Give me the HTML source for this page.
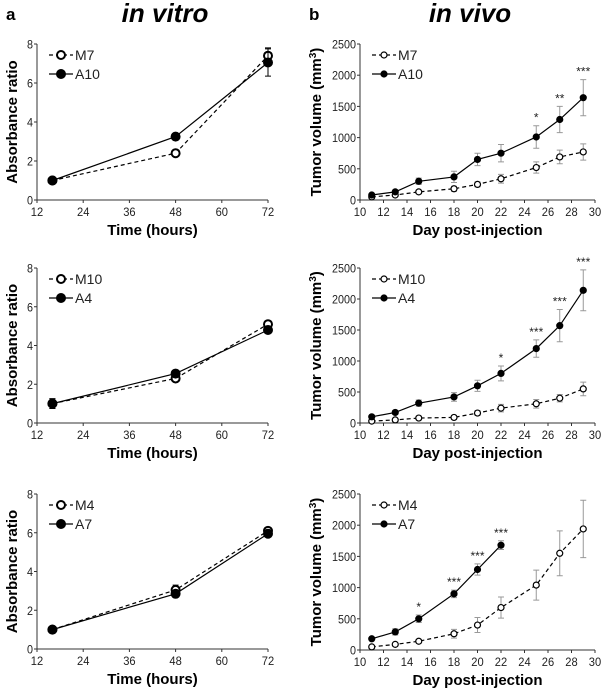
<!DOCTYPE html>
<html><head><meta charset="utf-8"><style>
body{margin:0;background:#fff;}
svg{display:block;font-family:"Liberation Sans",Arial,sans-serif;}
</style></head><body>
<svg id="fig" width="601" height="693" viewBox="0 0 601 693">
<text x="6" y="20" font-size="17" font-weight="bold">a</text>
<text x="165" y="22" font-size="26" font-weight="bold" font-style="italic" text-anchor="middle">in vitro</text>
<text x="309" y="20" font-size="17" font-weight="bold">b</text>
<text x="470" y="22" font-size="26" font-weight="bold" font-style="italic" text-anchor="middle">in vivo</text>
</svg>
<script>
// In vitro data
const vitroHours = [16, 48, 72];
const vitroTicks = [12, 24, 36, 48, 60, 72];
const vitroYTicks = [0, 2, 4, 6, 8];
const v1Names = ["M7", "A10"];
const v1M = [1.0, 2.4, 7.4];
const v1A = [1.0, 3.25, 7.05];
const v1Merr = [0.1, 0.1, 0.4];
const v1Aerr = [0.1, 0.1, 0.7];
const v2Names = ["M10", "A4"];
const v2M = [1.0, 2.3, 5.1];
const v2A = [1.0, 2.55, 4.8];
const v2Merr = [0.25, 0.15, 0.1];
const v2Aerr = [0.25, 0.15, 0.1];
const v3Names = ["M4", "A7"];
const v3M = [1.0, 3.05, 6.1];
const v3A = [1.0, 2.85, 5.95];
const v3Merr = [0.1, 0.25, 0.1];
const v3Aerr = [0.1, 0.15, 0.1];
// In vivo data
const vivoDays = [11, 13, 15, 18, 20, 22, 25, 27, 29];
const vivoTicks = [10, 12, 14, 16, 18, 20, 22, 24, 26, 28, 30];
const vivoYTicks = [0, 500, 1000, 1500, 2000, 2500];
const w1Names = ["M7", "A10"];
const w1M = [50, 80, 130, 180, 250, 340, 520, 690, 770];
const w1A = [80, 130, 300, 370, 650, 750, 1010, 1290, 1640];
const w1Merr = [20, 20, 30, 40, 40, 70, 90, 110, 130];
const w1Aerr = [20, 30, 50, 90, 100, 140, 180, 210, 290];
const w1Stars = ["", "", "", "", "", "", "*", "**", "***"];
const w2Names = ["M10", "A4"];
const w2M = [30, 50, 80, 90, 160, 240, 310, 400, 550];
const w2A = [100, 170, 320, 420, 600, 800, 1200, 1570, 2140];
const w2Merr = [20, 20, 30, 30, 40, 60, 70, 60, 110];
const w2Aerr = [20, 30, 50, 70, 90, 120, 140, 260, 330];
const w2Stars = ["", "", "", "", "", "*", "***", "***", "***"];
const w3Names = ["M4", "A7"];
const w3M = [50, 90, 140, 260, 400, 680, 1040, 1550, 1940];
const w3A = [180, 290, 500, 900, 1290, 1680];
const w3Merr = [20, 20, 30, 70, 120, 170, 240, 360, 460];
const w3Aerr = [20, 50, 60, 60, 90, 70];
const w3Stars = ["", "", "*", "***", "***", "***"];

const NS = "http://www.w3.org/2000/svg";
const svg = document.getElementById("fig");
function mk(tag, attrs, parent, txt) {
  const e = document.createElementNS(NS, tag);
  for (const k in attrs) e.setAttribute(k, attrs[k]);
  if (txt !== undefined) e.textContent = txt;
  (parent || svg).appendChild(e);
  return e;
}

function panel(o) {
  const g = mk("g", {});
  
  
  const sx = v => o.x0 + (v - o.xmin) / (o.xmax - o.xmin) * (o.x1 - o.x0);
  const sy = v => o.y0 - (v - o.ymin) / (o.ymax - o.ymin) * (o.y0 - o.y1);
  const ax = mk("path", {d: `M${o.x0} ${o.y1}V${o.y0}H${o.x1}`, stroke: "#333", fill: "none", "stroke-width": 1}, g);
  
  
  o.yticks.forEach(t => {
    mk("line", {x1: o.x0 - 3, x2: o.x0, y1: sy(t), y2: sy(t), stroke: "#333"}, g);
    const tl = mk("text", {x: o.x0 - 4, y: sy(t) + 4.5, "font-size": 12, "text-anchor": "end", fill: "#222", textLength: String(t).length * 6, lengthAdjust: "spacingAndGlyphs"}, g, t);
    
    
  });
  o.xticks.forEach(t => {
    mk("line", {x1: sx(t), x2: sx(t), y1: o.y0, y2: o.y0 + 3, stroke: "#333"}, g);
    const tl = mk("text", {x: sx(t), y: o.y0 + 16, "font-size": 12, "text-anchor": "middle", fill: "#222", textLength: String(t).length * 6.2, lengthAdjust: "spacingAndGlyphs"}, g, t);
    
    
  });
  const xt = mk("text", {x: (o.x0 + o.x1) / 2, y: o.y0 + 35, "font-size": 15, "font-weight": "bold", "text-anchor": "middle"}, g, o.xlabel);
  
  
  const yc = (o.y0 + o.y1) / 2;
  const yt = mk("text", {x: 0, y: 0, "font-size": 15, "font-weight": "bold", "text-anchor": "middle", transform: `translate(${o.ylx},${yc}) rotate(-90)`}, g);
  yt.textContent = o.ylabel;
  if (o.sup) { mk("tspan", {"baseline-shift": "super", "font-size": 10}, yt, "3"); mk("tspan", {}, yt, ")"); }
  
  
  const series = [
    {vals: o.m, err: o.merr, dash: "4,3", fill: "#fff", name: "series-" + o.names[0]},
    {vals: o.a, err: o.aerr, dash: "", fill: "#000", name: "series-" + o.names[1]}
  ];
  series.forEach(s => {
    const sg = mk("g", {}, g);
    
    
    s.vals.forEach((v, i) => {
      const x = sx(o.xs[i]);
      const e = s.err[i];
      const eb = mk("path", {d: `M${x} ${sy(v - e)}V${sy(v + e)}M${x - 3} ${sy(v - e)}h6M${x - 3} ${sy(v + e)}h6`, stroke: o.errColor, "stroke-width": 1, fill: "none"}, sg);
      
      
    });
    const d = s.vals.map((v, i) => (i ? "L" : "M") + sx(o.xs[i]) + " " + sy(v)).join("");
    const ln = mk("path", {d: d, stroke: "#000", "stroke-width": 1.2, fill: "none", "stroke-dasharray": s.dash}, sg);
    
    
    s.vals.forEach((v, i) => {
      const c = mk("circle", {cx: sx(o.xs[i]), cy: sy(v), r: o.r, fill: s.fill, stroke: "#000", "stroke-width": o.sw}, sg);
      
      
    });
  });
  if (o.stars) {
    o.stars.forEach((st, i) => {
      if (!st) return;
      const top = o.a[i] + o.aerr[i];
      const t = mk("text", {x: sx(o.xs[i]), y: sy(top) - 4, "font-size": 12, "text-anchor": "middle", fill: "#222"}, g, st);
      
      
    });
  }
  const lg = mk("g", {}, g);
  
  
  const lx = o.x0 + 12, ly = o.y1 + 11;
  [[o.names[0], "4,3", "#fff"], [o.names[1], "", "#000"]].forEach((e, k) => {
    const y = ly + k * 19;
    mk("line", {x1: lx, x2: lx + 24, y1: y, y2: y, stroke: "#000", "stroke-width": 1.2, "stroke-dasharray": e[1]}, lg);
    mk("circle", {cx: lx + 12, cy: y, r: o.r, fill: e[2], stroke: "#000", "stroke-width": o.sw}, lg);
    const t = mk("text", {x: lx + 26, y: y + 5, "font-size": 14, fill: "#222"}, lg, e[0]);
    
    
  });
}

const vitro = [[v1Names, v1M, v1A, v1Merr, v1Aerr, 44, 200], [v2Names, v2M, v2A, v2Merr, v2Aerr, 268, 423], [v3Names, v3M, v3A, v3Merr, v3Aerr, 494, 649]];
vitro.forEach((p, k) => panel({
  name: "in-vitro-chart-" + (k + 1), names: p[0], m: p[1], a: p[2], merr: p[3], aerr: p[4],
  xs: vitroHours, x0: 37, x1: 268, y1: p[5], y0: p[6], xmin: 12, xmax: 72, ymin: 0, ymax: 8,
  xticks: vitroTicks, yticks: vitroYTicks, xlabel: "Time (hours)", ylabel: "Absorbance ratio", ylx: 17,
  r: 4, sw: 2, errColor: "#000"
}));
const vivo = [[w1Names, w1M, w1A, w1Merr, w1Aerr, w1Stars, 44, 200], [w2Names, w2M, w2A, w2Merr, w2Aerr, w2Stars, 268, 423], [w3Names, w3M, w3A, w3Merr, w3Aerr, w3Stars, 494, 650]];
vivo.forEach((p, k) => panel({
  name: "in-vivo-chart-" + (k + 1), names: p[0], m: p[1], a: p[2], merr: p[3], aerr: p[4], stars: p[5],
  xs: vivoDays, x0: 360, x1: 595, y1: p[6], y0: p[7], xmin: 10, xmax: 30, ymin: 0, ymax: 2500,
  xticks: vivoTicks, yticks: vivoYTicks, xlabel: "Day post-injection", ylabel: "Tumor volume (mm", sup: true, ylx: 321,
  r: 3, sw: 1.2, errColor: "#999"
}));
</script>
</body></html>
